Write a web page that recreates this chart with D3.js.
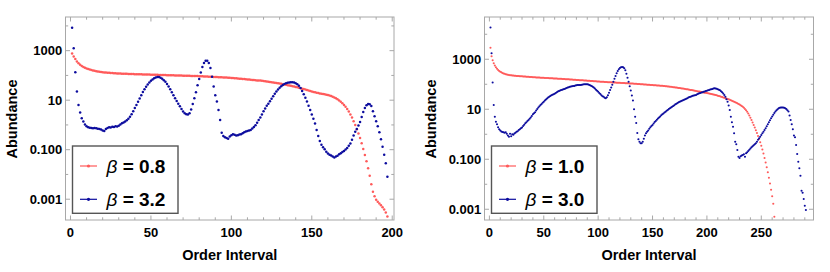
<!DOCTYPE html>
<meta charset="utf-8">
<script src="https://d3js.org/d3.v7.min.js"></script>
<style>
  body { margin: 0; background: #fff; }
  text { font-family: "Liberation Sans", Arial, sans-serif; }
</style>
<svg id="chart" width="830" height="272"></svg>
<script>

// log10(abundance), one value per order interval starting at 1
var leftRed = [2.89,2.76,2.66,2.56,2.49,2.43,2.38,2.34,2.31,2.28,2.26,2.24,2.22,2.20,2.19,2.17,2.16,2.15,2.14,2.13,
  2.12,2.12,2.11,2.11,2.10,2.10,2.09,
  2.09,2.08,2.08,2.08,2.07,2.07,2.07,2.07,2.06,2.06,
  2.06,2.06,2.05,2.05,2.05,2.05,2.05,2.04,2.04,2.04,2.04,2.04,2.03,2.03,2.03,2.03,2.03,2.02,2.02,2.02,2.02,
  2.02,2.01,2.01,2.01,2.01,2.01,2.00,2.00,2.00,2.00,2.00,1.99,1.99,1.99,1.99,1.99,1.98,1.98,1.98,1.98,1.98,
  1.97,1.97,1.97,1.96,1.96,1.96,1.95,1.95,1.95,1.94,1.94,1.94,1.93,1.93,1.93,1.92,1.92,1.92,1.91,1.91,
  1.90,1.90,1.89,1.89,1.88,1.87,1.87,1.86,1.86,1.85,1.84,1.84,1.83,1.82,1.82,1.81,1.80,1.80,1.79,
  1.78,1.77,1.76,1.75,1.74,1.73,1.72,1.71,1.70,1.69,1.68,
  1.67,1.66,1.64,1.63,1.62,1.60,1.59,1.58,1.56,1.55,
  1.53,1.52,1.50,1.48,1.46,1.45,1.43,1.41,1.39,1.37,1.35,
  1.33,1.32,1.30,1.29,1.27,1.26,1.25,1.24,1.22,1.21,
  1.19,1.17,1.14,1.11,1.08,1.04,
  0.99,0.94,0.88,0.81,0.73,0.64,
  0.54,0.42,0.30,0.15,0.00,-0.17,-0.35,-0.53,
  -0.74,-0.97,-1.21,-1.47,-1.75,-2.05,-2.40,
  -2.70,-2.88,-3.02,-3.10,-3.17,-3.24,-3.32,-3.42,-3.54,-3.70];

var leftBlue = [3.93,3.10,2.13,1.35,0.81,0.50,0.27,0.14,0.02,-0.05,
  -0.09,-0.11,-0.12,-0.13,-0.12,-0.13,-0.15,-0.16,-0.18,-0.22,
  -0.24,-0.16,-0.12,-0.09,-0.10,-0.07,-0.08,-0.05,-0.06,-0.03,
  0.02,0.07,0.10,0.14,0.19,0.25,0.33,0.43,0.55,0.68,
  0.81,0.94,1.07,1.20,1.33,1.44,1.54,1.63,1.71,1.78,
  1.84,1.89,1.92,1.94,1.94,1.91,1.87,1.81,1.74,1.65,
  1.55,1.44,1.32,1.20,1.08,0.97,0.86,0.75,0.64,0.54,
  0.47,0.43,0.42,0.47,0.62,0.85,1.08,1.32,1.60,1.86,
  2.12,2.34,2.50,2.59,2.59,2.50,2.30,1.95,1.55,1.20,
  0.95,0.60,0.20,-0.32,-0.45,-0.50,-0.53,-0.56,-0.47,-0.42,
  -0.38,-0.40,-0.43,-0.42,-0.39,-0.38,-0.34,-0.30,-0.27,-0.24,
  -0.22,-0.20,-0.14,-0.08,-0.01,0.09,0.20,0.30,0.42,0.55,
  0.66,0.77,0.86,0.96,1.06,1.16,1.26,1.35,1.43,1.50,
  1.56,1.61,1.65,1.68,1.70,1.71,1.72,1.72,1.71,1.68,
  1.64,1.58,1.49,1.37,1.24,1.10,0.95,0.78,0.60,0.42,
  0.25,0.06,-0.20,-0.45,-0.65,-0.80,-0.90,-0.98,-1.08,-1.15,
  -1.20,-1.23,-1.28,-1.32,-1.28,-1.24,-1.18,-1.14,-1.09,-1.05,
  -0.99,-0.93,-0.84,-0.75,-0.60,-0.43,-0.28,-0.16,-0.02,0.12,
  0.32,0.52,0.68,0.80,0.85,0.84,0.76,0.55,0.35,0.15,
  -0.05,-0.30,-0.58,-0.88,-1.20,-1.55,-2.09];

var rightRed = [3.46,3.12,2.96,2.84,2.75,2.68,2.62,2.57,2.53,2.50,2.48,2.45,2.43,2.42,2.40,2.39,2.38,2.37,2.36,2.36,
  2.35,2.35,2.34,2.34,2.33,2.33,2.33,2.32,2.32,2.32,2.31,2.31,2.31,2.30,2.30,2.30,2.29,2.29,2.29,2.28,
  2.28,2.28,2.27,2.27,2.27,2.27,2.26,2.26,2.26,2.26,2.25,2.25,2.25,2.25,2.24,2.24,2.24,2.24,2.23,2.23,
  2.23,2.23,2.22,2.22,2.22,2.22,2.21,2.21,2.21,2.20,
  2.20,2.20,2.20,2.19,2.19,2.19,2.18,2.18,2.18,2.17,2.17,2.17,2.16,2.16,2.16,2.16,2.15,2.15,2.15,2.14,
  2.14,2.14,2.13,2.13,2.13,2.12,2.12,2.12,2.11,2.11,
  2.11,2.10,2.10,2.10,2.10,2.09,2.09,2.09,2.08,2.08,2.08,2.08,2.07,2.07,2.07,2.07,2.06,2.06,2.06,2.06,
  2.05,2.05,2.05,2.05,2.04,2.04,2.04,2.04,2.03,2.03,
  2.03,2.03,2.02,2.02,2.02,2.01,2.01,2.01,2.00,2.00,2.00,1.99,1.99,1.99,1.98,1.98,1.98,1.97,1.97,1.97,
  1.96,1.96,1.96,1.95,1.95,1.95,1.94,1.94,1.94,1.93,
  1.93,1.92,1.92,1.91,1.91,1.90,1.90,1.89,1.88,1.88,1.87,1.87,1.86,1.85,1.85,1.84,1.83,1.83,1.82,1.81,
  1.80,1.80,1.79,1.78,1.77,1.77,1.76,1.75,1.74,1.73,
  1.72,1.71,1.71,1.70,1.69,1.68,1.67,1.66,1.66,1.65,1.64,1.63,1.62,1.61,1.60,
  1.59,1.58,1.57,1.56,1.54,1.53,1.52,1.50,1.49,1.47,1.46,1.44,
  1.43,1.41,1.40,1.38,1.36,1.34,1.32,1.30,1.28,
  1.26,1.24,1.21,1.19,1.16,1.13,1.10,
  1.06,1.01,0.96,0.90,0.83,0.75,0.66,
  0.57,0.47,0.37,0.27,0.16,0.05,-0.07,-0.19,
  -0.32,-0.46,-0.61,-0.77,-0.95,-1.13,-1.32,-1.52,
  -1.74,-1.97,-2.22,-2.48,-2.78,-3.30];

var rightBlue = [4.27,3.24,2.07,1.17,0.70,0.50,0.40,0.28,0.20,0.15,
  0.11,0.09,0.08,0.06,0.08,0.02,-0.05,-0.10,0.02,-0.08,
  0.00,-0.02,0.03,0.06,0.10,0.12,0.17,0.20,0.24,0.27,
  0.33,0.38,0.44,0.48,0.53,0.57,0.62,0.67,0.73,0.80,
  0.84,0.88,0.95,1.01,1.07,1.12,1.17,1.21,1.26,1.30,
  1.35,1.39,1.43,1.47,1.50,1.53,1.56,1.58,1.60,1.62,
  1.65,1.68,1.71,1.73,1.75,1.77,1.78,1.80,1.81,1.83,
  1.85,1.87,1.88,1.90,1.91,1.92,1.93,1.93,1.95,1.96,
  1.97,1.97,1.97,1.97,1.98,1.99,2.00,2.00,2.00,2.00,
  1.99,1.97,1.95,1.93,1.90,1.87,1.83,1.78,1.74,1.70,
  1.65,1.61,1.56,1.52,1.50,1.46,1.44,1.48,1.56,1.66,
  1.77,1.87,1.98,2.10,2.22,2.33,2.44,2.53,2.60,2.65,
  2.68,2.69,2.68,2.64,2.56,2.42,2.26,2.10,1.92,1.75,
  1.55,1.35,1.00,0.70,0.45,0.05,-0.20,-0.30,-0.36,-0.36,
  -0.30,-0.18,-0.05,0.04,0.10,0.15,0.22,0.28,0.33,0.37,
  0.43,0.49,0.53,0.58,0.63,0.67,0.71,0.76,0.80,0.83,
  0.87,0.90,0.94,0.97,1.01,1.04,1.07,1.10,1.13,1.16,
  1.20,1.22,1.25,1.28,1.30,1.32,1.34,1.36,1.38,1.40,
  1.42,1.44,1.47,1.49,1.50,1.52,1.54,1.55,1.56,1.57,
  1.60,1.62,1.64,1.65,1.67,1.68,1.70,1.71,1.73,1.74,
  1.76,1.77,1.79,1.80,1.81,1.83,1.84,1.83,1.82,1.80,
  1.78,1.76,1.72,1.68,1.63,1.57,1.50,1.40,1.30,1.15,
  0.97,0.70,0.48,0.30,0.04,-0.30,-0.40,-0.63,-0.90,-0.95,
  -0.88,-0.85,-0.83,-0.80,-0.90,-0.76,-0.72,-0.67,-0.62,-0.57,
  -0.52,-0.48,-0.44,-0.40,-0.36,-0.30,-0.22,-0.16,-0.10,-0.03,
  0.04,0.10,0.17,0.24,0.32,0.40,0.48,0.56,0.64,0.71,
  0.78,0.85,0.91,0.96,1.00,1.04,1.06,1.07,1.07,1.07,
  1.06,1.04,1.01,0.96,0.91,0.75,0.57,0.40,0.20,-0.05,
  -0.12,-0.43,-0.79,-1.10,-1.36,-1.66,-2.26,-2.34,-2.59,-2.86,
  -3.03];

var yTickLabels = ["0.001", "0.100", "10", "1000"];
var yTickValues = [1e-3, 1e-1, 1e1, 1e3];

var RED = "#ff5a5a", BLUE = "#0c0c9e", FRAME = "#a8a8a8";

var panels = [
  { left: 65.5, right: 394, xDom: [-3.1, 201.1], yDom: [-3.84, 4.36],
    xMajor: [0, 50, 100, 150, 200], xMax: 200, red: leftRed, blue: leftBlue,
    betas: ["0.8", "3.2"], r: 1.25 },
  { left: 484.5, right: 813.5, xDom: [-4.5, 298], yDom: [-3.43, 4.69],
    xMajor: [0, 50, 100, 150, 200, 250], xMax: 290, red: rightRed, blue: rightBlue,
    betas: ["1.0", "3.0"], r: 1.05 }
];

var svg = d3.select("#chart");
var plotTop = 17, plotBottom = 220;

panels.forEach(function(p) {
  var x = d3.scaleLinear().domain(p.xDom).range([p.left, p.right]);
  var y = d3.scaleLog().domain([Math.pow(10, p.yDom[0]), Math.pow(10, p.yDom[1])]).range([plotBottom, plotTop]);
  var g = svg.append("g");

  // frame
  g.append("rect")
    .attr("x", p.left).attr("y", plotTop)
    .attr("width", p.right - p.left).attr("height", plotBottom - plotTop)
    .attr("fill", "none").attr("stroke", FRAME).attr("stroke-width", 1);

  // x ticks on bottom and top, pointing inward
  var xt = d3.range(0, p.xMax + 1, 10);
  xt.forEach(function(v) {
    var len = p.xMajor.indexOf(v) >= 0 ? 4.5 : 2.7;
    g.append("line").attr("x1", x(v)).attr("x2", x(v)).attr("y1", plotBottom).attr("y2", plotBottom - len)
      .attr("stroke", FRAME);
    g.append("line").attr("x1", x(v)).attr("x2", x(v)).attr("y1", plotTop).attr("y2", plotTop + len)
      .attr("stroke", FRAME);
  });
  p.xMajor.forEach(function(v) {
    g.append("text").attr("x", x(v)).attr("y", 236.5)
      .attr("text-anchor", "middle").attr("font-size", 13).attr("font-weight", "bold")
      .text(v);
  });

  // y ticks every decade, labelled every other decade
  d3.range(-3, 5).forEach(function(e) {
    var v = Math.pow(10, e);
    var len = yTickValues.indexOf(v) >= 0 ? 4.5 : 2.7;
    g.append("line").attr("x1", p.left).attr("x2", p.left + len).attr("y1", y(v)).attr("y2", y(v))
      .attr("stroke", FRAME);
    g.append("line").attr("x1", p.right).attr("x2", p.right - len).attr("y1", y(v)).attr("y2", y(v))
      .attr("stroke", FRAME);
  });
  yTickValues.forEach(function(v, i) {
    g.append("text").attr("x", p.left - 3.3).attr("y", y(v) + 4.7)
      .attr("text-anchor", "end").attr("font-size", 13).attr("font-weight", "bold")
      .text(yTickLabels[i]);
  });

  // axis titles
  g.append("text").attr("x", (p.left + p.right) / 2).attr("y", 259.5)
    .attr("text-anchor", "middle").attr("font-size", 14.5).attr("font-weight", "bold")
    .text("Order Interval");
  g.append("text")
    .attr("transform", "translate(" + (p.left - 48.5) + "," + 119 + ") rotate(-90)")
    .attr("text-anchor", "middle").attr("font-size", 14.5).attr("font-weight", "bold")
    .text("Abundance");

  // points
  g.append("g").selectAll("circle").data(p.red).enter().append("circle")
    .attr("cx", function(d, i) { return x(i + 1); })
    .attr("cy", function(d) { return y(Math.pow(10, d)); })
    .attr("r", p.r).attr("fill", RED);
  g.append("g").selectAll("circle").data(p.blue).enter().append("circle")
    .attr("cx", function(d, i) { return x(i + 1); })
    .attr("cy", function(d) { return y(Math.pow(10, d)); })
    .attr("r", p.r).attr("fill", BLUE);

  // legend
  var lx = p.left + 7;
  var lg = g.append("g");
  lg.append("rect").attr("x", lx).attr("y", 146).attr("width", 105.5).attr("height", 67.3)
    .attr("fill", "#fff").attr("stroke", "#555").attr("stroke-width", 1.4);
  [RED, BLUE].forEach(function(c, i) {
    var ly = 166 + i * 33.3;
    lg.append("line").attr("x1", lx + 7.5).attr("x2", lx + 24.5).attr("y1", ly).attr("y2", ly)
      .attr("stroke", c).attr("stroke-width", 1.2);
    lg.append("circle").attr("cx", lx + 16).attr("cy", ly).attr("r", 1.6).attr("fill", c);
    var t = lg.append("text").attr("x", lx + 34).attr("y", ly + 6.5).attr("font-size", 19);
    t.append("tspan").attr("font-style", "italic").text("\u03B2");
    t.append("tspan").attr("font-weight", "bold").text(" = " + p.betas[i]);
  });
});

</script>
